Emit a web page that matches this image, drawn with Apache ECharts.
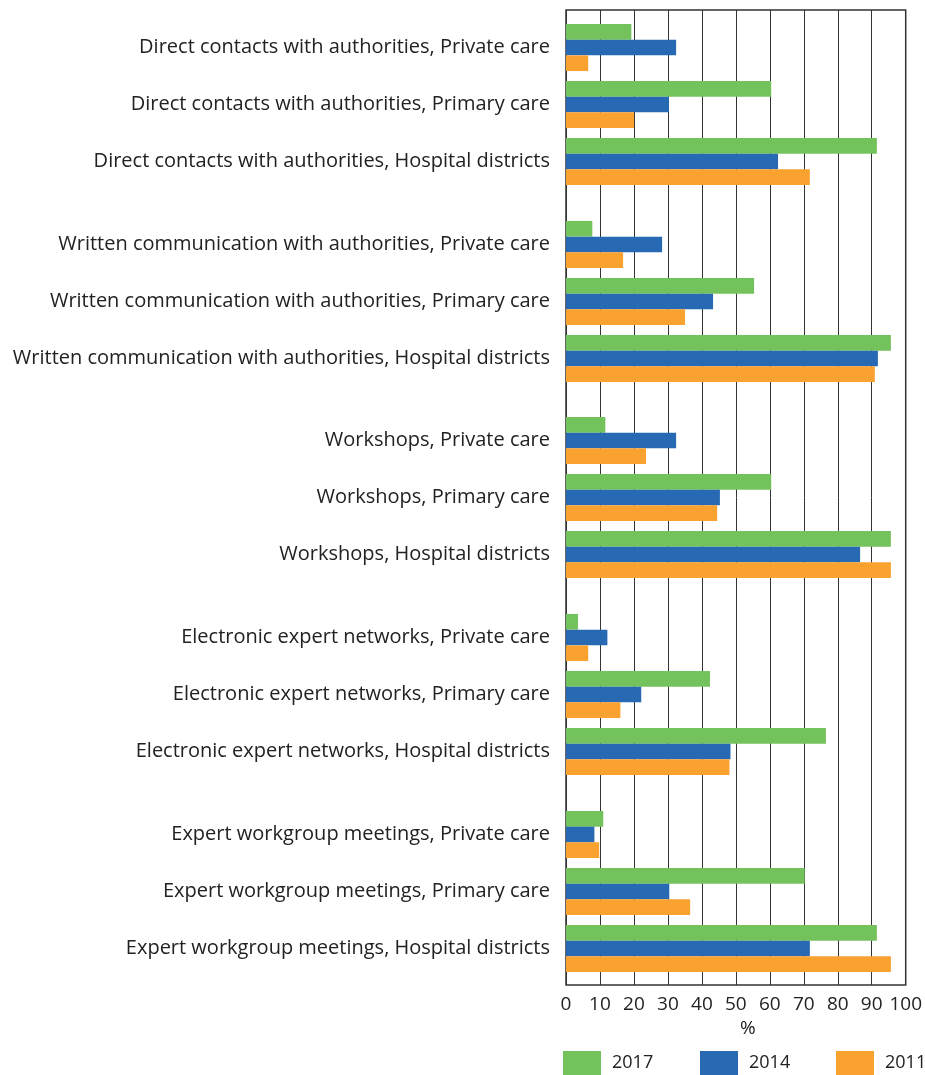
<!DOCTYPE html>
<html>
<head>
<meta charset="utf-8">
<script src="https://cdn.jsdelivr.net/npm/echarts@6/dist/echarts.min.js"></script>
<style>
  html, body { margin: 0; padding: 0; background: #fff; }
  #chart { width: 925px; height: 1075px; }
</style>
</head>
<body>
<div id="chart"></div>
<script>
// channels and sectors (each channel is one block of three rows)
const channels = [
  'Direct contacts with authorities',
  'Written communication with authorities',
  'Workshops',
  'Electronic expert networks',
  'Expert workgroup meetings'
]
const sectors = ['Private care', 'Primary care', 'Hospital districts']
const years = ['2017', '2014', '2011']

// % per row, rows in the order channel x sector
const v2017 = [19.1, 60.0, 90.9, 7.7, 55.0, 95.0, 11.5, 60.0, 95.0, 3.5, 42.1, 76.0, 10.9, 69.8, 90.9]
const v2014 = [32.2, 30.1, 62.0, 28.1, 43.0, 91.2, 32.2, 45.0, 86.0, 12.1, 22.0, 48.1, 8.3, 30.2, 71.3]
const v2011 = [6.5, 19.9, 71.3, 16.7, 34.8, 90.3, 23.4, 44.2, 95.0, 6.5, 15.9, 47.8, 9.7, 36.3, 95.0]

const colors = ['#74c25c', '#276ab3', '#f9a230']
const font = 'Open Sans'

let myChart = echarts.init(document.getElementById('chart'))

// grid 0 = frame, gridlines and x labels; grids 1..5 = one block each
let grids = [{ left: 566, right: 17, top: 10, bottom: 90, show: true, borderColor: '#333', borderWidth: 1.5 }]
let xAxes = [{
  type: 'value', gridIndex: 0, min: 0, max: 100, interval: 10,
  name: '%', nameLocation: 'middle', nameGap: 32,
  nameTextStyle: { fontFamily: font, fontSize: 19, color: '#222', padding: [0, 0, 0, 24] },
  axisLine: { show: false }, axisTick: { show: false },
  axisLabel: { fontFamily: font, fontSize: 19, color: '#222', margin: 10 },
  splitLine: { show: true, lineStyle: { color: '#333', width: 1 } }
}]
let yAxes = [{ type: 'value', gridIndex: 0, show: false, splitLine: { show: false } }]
let series = []
const blockTops = [19, 216, 412, 609, 806]
const yearData = [v2017, v2014, v2011]

channels.forEach((ch, i) => {
  let g = i + 1
  grids.push({ left: 566, right: 17, top: blockTops[i], height: 171 })
  xAxes.push({ type: 'value', gridIndex: g, min: 0, max: 100, show: false })
  yAxes.push({
    type: 'category', gridIndex: g, inverse: true,
    data: sectors.map(s => ch + ', ' + s),
    axisLine: { show: false }, axisTick: { show: false }, splitLine: { show: false },
    axisLabel: { fontFamily: font, fontSize: 20, color: '#222', margin: 16 }
  })
  years.forEach((y, k) => {
    series.push({
      name: y,
      type: 'bar',
      xAxisIndex: g,
      yAxisIndex: g,
      barWidth: 15.7,
      barGap: '0%',
      itemStyle: { color: colors[k] },
      data: yearData[k].slice(i * 3, i * 3 + 3)
    })
  })
})

// one legend per year so each sits where the reference has it
const legendLeft = [563, 700, 836]
let legends = years.map((y, k) => ({
  data: [y],
  left: legendLeft[k],
  top: 1051,
  padding: 0,
  itemWidth: 38,
  itemHeight: 24,
  icon: 'rect',
  textStyle: { fontFamily: font, fontSize: 18, color: '#222', padding: [0, 0, 0, 6] }
}))

let option = {
  animation: false,
  color: colors,
  grid: grids,
  xAxis: xAxes,
  yAxis: yAxes,
  legend: legends,
  series: series
}
myChart.setOption(option)
</script>
</body>
</html>
